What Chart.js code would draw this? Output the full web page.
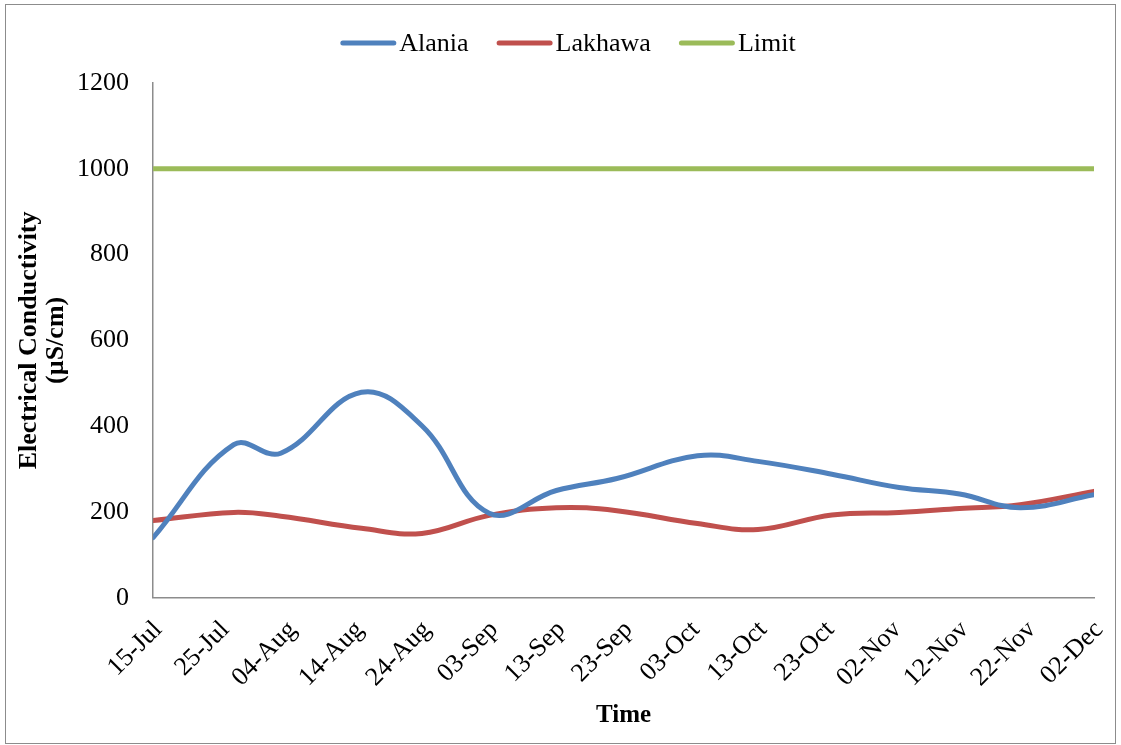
<!DOCTYPE html>
<html>
<head>
<meta charset="utf-8">
<script src="https://cdn.jsdelivr.net/npm/chart.js@4"></script>
<style>
  html, body { margin: 0; padding: 0; background: #ffffff; }
  #wrap { position: relative; width: 1121px; height: 745px; }
</style>
</head>
<body>
<div id="wrap"><canvas id="ec"></canvas></div>
<script>
// Sampling days, counted from 15-Jul
const sampleDays = [0, 12, 19, 31, 40, 50, 60, 69, 81, 90, 101, 111, 120, 129, 140];
// Electrical conductivity (µS/cm)
const alania  = [140, 357, 337, 479, 401, 197, 250, 278, 331, 318, 288, 257, 242, 210, 240];
const lakhawa = [180, 199, 190, 162, 150, 192, 210, 203, 173, 159, 193, 199, 208, 217, 248];
const limit   = [1000, 1000, 1000, 1000, 1000, 1000, 1000, 1000, 1000, 1000, 1000, 1000, 1000, 1000, 1000];
// Axis labels every 10 days
const tickLabels = ['15-Jul', '25-Jul', '04-Aug', '14-Aug', '24-Aug', '03-Sep', '13-Sep', '23-Sep',
                    '03-Oct', '13-Oct', '23-Oct', '02-Nov', '12-Nov', '22-Nov', '02-Dec'];
const yTicks = [0, 200, 400, 600, 800, 1000, 1200];

const SERIF = "'Liberation Serif', 'Times New Roman', serif";

function points(values) {
  return sampleDays.map((d, i) => ({ x: d, y: values[i] }));
}

function series(label, values, color) {
  return {
    label: label,
    data: points(values),
    borderColor: color,
    backgroundColor: color,
    borderWidth: 5,
    pointRadius: 0,
    pointHoverRadius: 0,
    tension: 0.4,
    borderCapStyle: 'round',
    borderJoinStyle: 'round',
    fill: false
  };
}

// Thin grey frame round the whole chart
const framePlugin = {
  id: 'frame',
  afterDraw(chart) {
    const ctx = chart.ctx;
    ctx.save();
    ctx.strokeStyle = '#8c8c8c';
    ctx.lineWidth = 1;
    ctx.strokeRect(5.5, 4.5, chart.width - 11, chart.height - 6);
    ctx.restore();
  }
};

// Compact legend row: line sample, then its label, items centred in one row
const lineLegend = {
  id: 'lineLegend',
  afterDraw(chart, args, opts) {
    const ctx = chart.ctx;
    const sampleW = 56, textGap = 3, itemGap = 28;
    ctx.save();
    ctx.font = '26px ' + SERIF;
    ctx.textBaseline = 'middle';
    ctx.textAlign = 'left';
    const items = chart.data.datasets.map(ds => ({
      label: ds.label, color: ds.borderColor, w: ctx.measureText(ds.label).width
    }));
    const total = items.reduce((s, it) => s + sampleW + textGap + it.w, 0) + itemGap * (items.length - 1);
    let x = opts.centerX - total / 2;
    const y = opts.y;
    items.forEach(it => {
      ctx.strokeStyle = it.color;
      ctx.lineWidth = 5;
      ctx.lineCap = 'round';
      ctx.beginPath();
      ctx.moveTo(x + 2.5, y);
      ctx.lineTo(x + sampleW - 2.5, y);
      ctx.stroke();
      ctx.fillStyle = '#000';
      ctx.fillText(it.label, x + sampleW + textGap, y + 1);
      x += sampleW + textGap + it.w + itemGap;
    });
    ctx.restore();
  }
};

new Chart(document.getElementById('ec'), {
  type: 'line',
  data: {
    datasets: [
      series('Alania', alania, '#4F81BD'),
      series('Lakhawa', lakhawa, '#C0504D'),
      series('Limit', limit, '#9BBB59')
    ]
  },
  options: {
    responsive: true,
    maintainAspectRatio: false,
    animation: false,
    layout: { padding: { left: 16, right: 27, top: 83, bottom: 14 } },
    plugins: {
      tooltip: { enabled: false },
      legend: { display: false },
      lineLegend: { centerX: 568, y: 43 }
    },
    scales: {
      x: {
        type: 'linear',
        min: 0,
        max: 140,
        grid: { display: false, drawTicks: false },
        border: { display: true, color: '#8c8c8c', width: 1.5 },
        afterBuildTicks(axis) {
          axis.ticks = tickLabels.map((_, i) => ({ value: i * 10 }));
        },
        afterFit(axis) {
          axis.paddingLeft = 0;
          axis.paddingRight = 0;
          axis.height -= 9;
        },
        ticks: {
          autoSkip: false,
          maxRotation: 45,
          minRotation: 45,
          padding: 17,
          labelOffset: 5,
          color: '#000',
          font: { family: SERIF, size: 26 },
          callback: (v) => tickLabels[Math.round(v / 10)]
        },
        title: {
          display: true,
          text: 'Time',
          color: '#000',
          font: { family: SERIF, size: 25, weight: 'bold' },
          padding: { top: 0, bottom: 0 }
        }
      },
      y: {
        min: 0,
        max: 1200,
        grid: { display: false, drawTicks: false },
        border: { display: true, color: '#8c8c8c', width: 1.5 },
        afterBuildTicks(axis) {
          axis.ticks = yTicks.map(v => ({ value: v }));
        },
        afterFit(axis) {
          axis.width -= 21;
        },
        ticks: {
          padding: 24,
          color: '#000',
          font: { family: SERIF, size: 26 },
          callback: (v) => String(v)
        },
        title: {
          display: true,
          text: ['Electrical Conductivity', '(µS/cm)'],
          color: '#000',
          font: { family: SERIF, size: 26, weight: 'bold', lineHeight: 1.04 },
          padding: { top: 0, bottom: 4 }
        }
      }
    }
  },
  plugins: [framePlugin, lineLegend]
});
</script>
</body>
</html>
